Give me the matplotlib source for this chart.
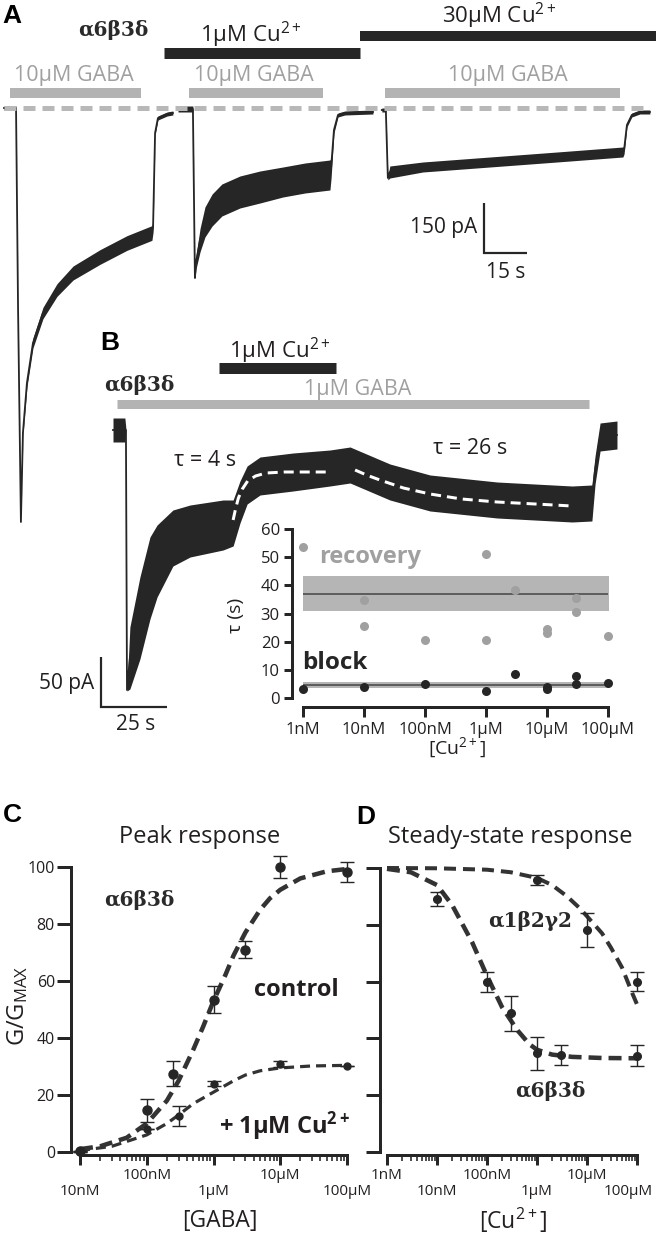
import numpy as np
import matplotlib
matplotlib.use("Agg")
import matplotlib.pyplot as plt
import matplotlib.transforms as mtransforms
from matplotlib.ticker import FixedLocator, FixedFormatter, LogLocator, NullFormatter, NullLocator

W, H = 656, 1235
plt.rcParams['font.family'] = ['Open Sans', 'DejaVu Sans']
plt.rcParams['mathtext.fontset'] = 'custom'
plt.rcParams['mathtext.rm'] = 'Open Sans'
plt.rcParams['mathtext.it'] = 'Open Sans:italic'
plt.rcParams['mathtext.bf'] = 'Open Sans:bold'
plt.rcParams['lines.scale_dashes'] = False

INK = '#262626'
TXT = '#231f20'
GRAY_BAR = '#b3b3b3'
GRAY_TXT = '#a0a0a0'
SERIF = ['DejaVu Serif']
HEAVY = ['Liberation Sans', 'DejaVu Sans']
PT = 72 / 100.0  # points per pixel

# ---------------- DATA ----------------
# Panel A: current traces (time s, current pA, noise half-width pA)
a_t1 = [0, 4.2, 4.9, 5.9, 6.6, 8.0, 10.1, 13.6, 18.5, 24.1, 33.5, 42.9, 51.6, 52.0, 52.7, 53.7, 56.9, 58.9]
a_i1 = [0, 0, -600, -1242, -975, -825, -705, -615, -546, -495, -447, -405, -375, -357, -75, -30, -18, -15]
a_w1 = [6, 6, 3, 3, 8, 12, 15, 17, 19, 21, 22, 22, 22, 16, 6, 6, 6, 6]

a_t2 = [60.7, 65.9, 66.6, 67.0, 68.4, 70.1, 72.6, 76.0, 82.3, 89.3, 97.3, 105.0, 113.7, 114.1, 115.1, 116.5, 118.9, 128.7]
a_i2 = [-3, -3, -510, -462, -396, -342, -306, -276, -252, -237, -222, -210, -201, -180, -66, -21, -15, -12]
a_w2 = [9, 9, 3, 20, 35, 45, 48, 48, 48, 48, 45, 45, 45, 30, 9, 6, 6, 6]

a_t3 = [131.8, 133.2, 133.9, 134.6, 146.1, 169.5, 192.9, 215.9, 216.3, 217.3, 219.0, 221.8, 225.3]
a_i3 = [-6, -6, -210, -192, -177, -162, -147, -132, -126, -51, -21, -12, -12]
a_w3 = [6, 6, 6, 18, 15, 15, 15, 15, 12, 6, 6, 6, 6]

a_gaba = [(2.1, 47.8), (64.5, 111.3), (132.9, 214.9)]
a_cu1 = (55.8, 124.2)
a_cu30 = (124.2, 227.4)

# Panel B: trace (time s, current pA, noise half-width pA)
b_t = [0, 4.5, 4.9, 5.3, 6.4, 10.2, 14.0, 16.7, 22.7, 29.2, 41.7, 45.5, 48.1, 50.8, 55.7, 68.2, 82.2, 89.8, 104.9, 120.1, 145.5, 173.9, 181.4, 182.6, 184.5, 190.9]
b_i = [0, 0, 0, -260, -228, -188, -148, -131, -108, -101, -95, -93, -72, -55, -46, -42, -38, -35, -52, -63, -70, -74, -73, -40, -7, -5]
b_w = [12, 12, 1, 1, 31, 41, 41, 36, 28, 26, 25, 23, 21, 19, 19, 19, 18, 18, 18, 18, 18, 18, 18, 14, 14, 14]
b_fit1_t = [45.5, 46.5, 47.5, 49.0, 51.0, 54.0, 58.0, 65.0, 81.0]
b_fit1_i = [-90, -78, -68, -59, -51, -46, -43, -42, -42]
b_fit2_t = [91.7, 96.0, 101.1, 110.0, 120.1, 132.0, 145.5, 160.0, 173.9]
b_fit2_i = [-40, -45, -50, -58, -64, -69, -72, -74, -76]
b_gaba = (1.5, 180.3)
b_cu = (40.2, 84.5)

# Inset: time constants vs [Cu2+]
conc_ticks = [1e-9, 1e-8, 1e-7, 1e-6, 1e-5, 1e-4]
conc_labels = ['1nM', '10nM', '100nM', '1μM', '10μM', '100μM']
rec_x = [1e-9, 1e-8, 1e-8, 1e-7, 1e-6, 1e-6, 3e-6, 1e-5, 1e-5, 3e-5, 3e-5, 1e-4]
rec_y = [53.5, 34.9, 25.7, 20.7, 51.2, 20.7, 38.2, 24.5, 23.1, 35.5, 30.5, 22.1]
blk_x = [1e-9, 1e-8, 1e-7, 1e-6, 3e-6, 1e-5, 1e-5, 3e-5, 3e-5, 1e-4]
blk_y = [3.2, 3.8, 5.1, 2.6, 8.6, 3.3, 3.9, 7.9, 5.0, 5.3]
rec_mean, rec_lo, rec_hi = 37.0, 31.0, 43.2
blk_mean, blk_lo, blk_hi = 4.5, 3.6, 5.6

# Panel C: GABA concentration-response
gaba_ticks = [1e-8, 1e-7, 1e-6, 1e-5, 1e-4]
gaba_labels = ['10nM', '100nM', '1μM', '10μM', '100μM']
c_ctrl_x = [1e-8, 1e-7, 2.5e-7, 1e-6, 3e-6, 1e-5, 1e-4]
c_ctrl_y = [0.5, 14.6, 27.5, 53.5, 71.0, 100.0, 98.2]
c_ctrl_e = [0, 4.0, 4.4, 4.7, 3.0, 3.8, 3.5]
c_cu_x = [1e-8, 1e-7, 3e-7, 1e-6, 1e-5, 1e-4]
c_cu_y = [0.0, 8.0, 12.5, 24.0, 30.8, 30.2]
c_cu_e = [0, 0, 3.5, 1.0, 1.0, 0]
c_ctrl_fit_x = [1e-8, 2e-8, 5e-8, 1e-7, 2e-7, 3e-7, 5e-7, 7e-7, 1e-6, 1.5e-6, 2e-6, 3e-6, 5e-6, 7e-6, 1e-5, 2e-5, 5e-5, 1e-4]
c_ctrl_fit_y = [1, 2, 5, 10, 18, 25, 36, 44, 53, 62, 69, 77, 85, 89, 92, 96, 98.5, 99.3]
c_cu_fit_x = [1e-8, 3e-8, 1e-7, 2e-7, 3e-7, 5e-7, 1e-6, 2e-6, 3e-6, 5e-6, 1e-5, 3e-5, 1e-4]
c_cu_fit_y = [0.5, 2, 6, 10, 13, 17, 21, 25, 27, 28.5, 29.5, 30.2, 30.4]

# Panel D: steady-state Cu2+ inhibition
d_a6_x = [1e-8, 1e-7, 3e-7, 1e-6, 3e-6, 1e-4]
d_a6_y = [89.0, 60.0, 48.8, 34.7, 34.1, 33.9]
d_a6_e = [2.4, 3.5, 6.2, 5.9, 3.5, 3.7]
d_a1_x = [1e-6, 1e-5, 1e-4]
d_a1_y = [95.9, 78.2, 60.0]
d_a1_e = [1.8, 5.9, 3.4]
d_a6_fit_x = [1e-9, 3e-9, 1e-8, 2e-8, 5e-8, 1e-7, 2e-7, 4e-7, 7e-7, 1e-6, 2e-6, 5e-6, 2e-5, 1e-4]
d_a6_fit_y = [99.7, 98.5, 94, 87, 74, 62, 51, 43, 38, 36, 34.3, 33.5, 33.1, 33]
d_a1_fit_x = [1e-9, 1e-8, 1e-7, 3e-7, 1e-6, 2e-6, 4e-6, 7e-6, 1e-5, 2e-5, 3e-5, 5e-5, 8e-5, 1e-4]
d_a1_fit_y = [100, 99.9, 99.4, 98.5, 96.5, 94, 90, 86, 83, 77, 72, 65, 56, 52]

# ---------------- FIGURE ----------------
fig = plt.figure(figsize=(W / 100, H / 100), dpi=100)


def ax_px(x0, y0, x1, y1):
    return fig.add_axes([x0 / W, 1 - y1 / H, (x1 - x0) / W, (y1 - y0) / H])


def ftext(x, y, s, **kw):
    kw.setdefault('ha', 'center')
    kw.setdefault('va', 'center')
    kw.setdefault('color', TXT)
    fig.text(x / W, 1 - y / H, s, **kw)


def greek(x, y, s):
    ftext(x, y, s, fontsize=14.5, family=SERIF, fontweight='bold', color='#2a2a2a')


def draw_trace(ax, t, i, w):
    t = np.asarray(t, float); i = np.asarray(i, float); w = np.asarray(w, float)
    ax.fill_between(t, i - w, i + w, color=INK, lw=0)
    ax.plot(t, i, color=INK, lw=1.3)


def hbar(ax, span, y, color, px):
    ax.plot(list(span), [y, y], color=color, lw=px * PT, solid_capstyle='butt')


# ---- Panel A ----
axA = ax_px(0, 0, W, 530)
axA.set_axis_off()
sA = 43 / 15.0
axA.set_xlim(-4 / sA, (W - 4) / sA)
axA.set_ylim((108 - 530) * 3, 108 * 3)
for t, i, w in [(a_t1, a_i1, a_w1), (a_t2, a_i2, a_w2), (a_t3, a_i3, a_w3)]:
    draw_trace(axA, t, i, w)
axA.plot([0, 224], [0, 0], color='#b8b8b8', lw=5 * PT, dashes=(12 * PT, 7 * PT), zorder=5)
for span in a_gaba:
    hbar(axA, span, 45, GRAY_BAR, 10)
hbar(axA, a_cu1, 163.5, INK, 11)
hbar(axA, a_cu30, 216, INK, 10)
axA.plot([167.4, 167.4, 182.4], [-285, -435, -435], color=INK, lw=2.2 * PT,
         solid_joinstyle='miter', solid_capstyle='butt')

ftext(12, 16, 'A', fontsize=19, fontweight='bold', family=HEAVY, color='black')
greek(113, 30, 'α6β3δ')
ftext(251, 35, '1μM Cu$^{2+}$', fontsize=16)
ftext(499, 16, '30μM Cu$^{2+}$', fontsize=16)
for xc in (74, 254, 508):
    ftext(xc, 76, '10μM GABA', fontsize=15.5, color=GRAY_TXT)
ftext(477, 228, '150 pA', ha='right', fontsize=15)
ftext(506, 273, '15 s', fontsize=15)

# ---- Panel B ----
axB = ax_px(60, 330, 640, 760)
axB.set_axis_off()
sB = 2.64
axB.set_xlim((60 - 113) / sB, (640 - 113) / sB)
axB.set_ylim(-330, 100)
draw_trace(axB, b_t, b_i, b_w)
for ft, fi in [(b_fit1_t, b_fit1_i), (b_fit2_t, b_fit2_i)]:
    axB.plot(ft, fi, color='white', lw=3 * PT, dashes=(10 * PT, 6 * PT), zorder=4)
hbar(axB, b_gaba, 26.5, GRAY_BAR, 9)
hbar(axB, b_cu, 62.5, INK, 11)
axB.plot([-4.5, -4.5, 20.5], [-227, -277, -277], color=INK, lw=2.2 * PT,
         solid_joinstyle='miter', solid_capstyle='butt')

ftext(110, 343, 'B', fontsize=19, fontweight='bold', family=HEAVY, color='black')
ftext(280, 351, '1μM Cu$^{2+}$', fontsize=16)
greek(139, 385, 'α6β3δ')
ftext(358, 390, '1μM GABA', fontsize=15.5, color=GRAY_TXT)
ftext(205, 460, 'τ = 4 s', fontsize=15.5)
ftext(470, 448, 'τ = 26 s', fontsize=15.5)
ftext(94, 683, '50 pA', ha='right', fontsize=15)
ftext(136, 725, '25 s', fontsize=15)

# ---- Inset ----
axI = ax_px(303, 529, 608, 698)
axI.patch.set_alpha(0)
axI.set_xscale('log')
axI.set_xlim(1e-9, 1e-4)
axI.set_ylim(0, 60)
for s in ('top', 'right'):
    axI.spines[s].set_visible(False)
axI.spines['left'].set_position(('outward', 11 * PT))
axI.spines['bottom'].set_position(('outward', 9 * PT))
for s in ('left', 'bottom'):
    axI.spines[s].set_linewidth(3 * PT)
    axI.spines[s].set_color(INK)
axI.fill_between([1e-9, 1.08e-4], rec_lo, rec_hi, color='#b5b5b5', lw=0)
axI.plot([1e-9, 1.08e-4], [rec_mean] * 2, color='#555555', lw=1.3)
axI.fill_between([1e-9, 1.08e-4], blk_lo, blk_hi, color='#b5b5b5', lw=0)
axI.plot([1e-9, 1.08e-4], [blk_mean] * 2, color='#555555', lw=1.3)
axI.plot(rec_x, rec_y, 'o', ms=6.5, color='#a0a0a0', mec='none', clip_on=False, zorder=3)
axI.plot(blk_x, blk_y, 'o', ms=6.5, color=INK, mec='none', clip_on=False, zorder=3)
axI.xaxis.set_major_locator(FixedLocator(conc_ticks))
axI.xaxis.set_major_formatter(FixedFormatter(conc_labels))
axI.xaxis.set_minor_locator(NullLocator())
axI.set_yticks([0, 10, 20, 30, 40, 50, 60])
axI.tick_params(axis='x', length=10 * PT, width=3 * PT, color=INK, labelsize=12, pad=3.5, labelcolor=TXT)
axI.tick_params(axis='y', length=8 * PT, width=3 * PT, color=INK, labelsize=12, pad=3, labelcolor=TXT)
ftext(370, 557, 'recovery', fontsize=17, fontweight='bold', color='#a0a0a0')
ftext(335, 663, 'block', fontsize=17.5, fontweight='bold', color=INK)
ftext(457, 748, '[Cu$^{2+}$]', fontsize=14)
ftext(236, 615, 'τ (s)', fontsize=14, rotation=90)


# ---- Panels C & D ----
def style_dr(ax, left_out):
    ax.set_xscale('log')
    ax.set_ylim(0, 100)
    ax.patch.set_alpha(0)
    for s in ('top', 'right'):
        ax.spines[s].set_visible(False)
    ax.spines['left'].set_position(('outward', left_out * PT))
    ax.spines['bottom'].set_position(('outward', 3 * PT))
    for s in ('left', 'bottom'):
        ax.spines[s].set_linewidth(3 * PT)
        ax.spines[s].set_color(INK)
    ax.set_yticks([0, 20, 40, 60, 80, 100])
    ax.xaxis.set_minor_locator(LogLocator(base=10, subs=np.arange(2, 10), numticks=20))
    ax.xaxis.set_minor_formatter(NullFormatter())
    ax.tick_params(axis='y', length=14 * PT, width=3 * PT, color=INK, labelsize=11.5, pad=1.5, labelcolor=TXT)
    ax.tick_params(axis='x', which='major', length=10 * PT, width=3 * PT, color=INK, labelsize=11, labelcolor=TXT)
    ax.tick_params(axis='x', which='minor', length=6 * PT, width=1.6 * PT, color=INK)


def stagger(ax, ticks, labels, first_low):
    ax.xaxis.set_major_locator(FixedLocator(ticks))
    ax.xaxis.set_major_formatter(FixedFormatter(labels))
    for k, tk in enumerate(ax.xaxis.get_major_ticks()):
        low = (k % 2 == 0) if first_low else (k % 2 == 1)
        tk.set_pad(14 if low else 2)


axC = ax_px(80, 867, 347, 1152)
style_dr(axC, 9)
axC.set_xlim(1e-8, 1e-4)
stagger(axC, gaba_ticks, gaba_labels, True)
axC.plot(c_ctrl_fit_x, c_ctrl_fit_y, color='#333333', lw=4.5 * PT, dashes=(13 * PT, 7 * PT), clip_on=False, zorder=4)
axC.plot(c_cu_fit_x, c_cu_fit_y, color='#333333', lw=3.2 * PT, dashes=(10 * PT, 6 * PT), clip_on=False, zorder=4)
axC.errorbar(c_ctrl_x, c_ctrl_y, yerr=c_ctrl_e, fmt='o', ms=6.5, color=INK, ecolor=INK,
             elinewidth=1, capsize=5, capthick=1, clip_on=False, zorder=5)
axC.errorbar(c_cu_x, c_cu_y, yerr=c_cu_e, fmt='o', ms=5, color=INK, ecolor=INK,
             elinewidth=1, capsize=5, capthick=1, clip_on=False, zorder=5)

ftext(12, 815, 'C', fontsize=19, fontweight='bold', family=HEAVY, color='black')
ftext(200, 837, 'Peak response', fontsize=17)
greek(139, 900, 'α6β3δ')
ftext(296, 990, 'control', fontsize=17, fontweight='bold')
ftext(284, 1126, '+ 1μM Cu$^{\\mathbf{2+}}$', fontsize=17, fontweight='bold')
ftext(220, 1221, '[GABA]', fontsize=16.5)
ftext(18, 1006, '$\\mathrm{G/G}_{\\mathrm{MAX}}$', fontsize=17, rotation=90)

axD = ax_px(387, 868, 637, 1152)
style_dr(axD, 7)
axD.set_xlim(1e-9, 1e-4)
axD.set_yticklabels([])
stagger(axD, conc_ticks, conc_labels, False)
last = axD.xaxis.get_major_ticks()[-1].label1
last.set_transform(last.get_transform() + mtransforms.ScaledTranslation(-9 / 100, 0, fig.dpi_scale_trans))
axD.plot(d_a6_fit_x, d_a6_fit_y, color='#333333', lw=4.5 * PT, dashes=(13 * PT, 7 * PT), clip_on=False, zorder=4)
axD.plot(d_a1_fit_x, d_a1_fit_y, color='#333333', lw=4 * PT, dashes=(12 * PT, 7 * PT), clip_on=False, zorder=4)
axD.errorbar(d_a6_x, d_a6_y, yerr=d_a6_e, fmt='o', ms=5.5, color=INK, ecolor=INK,
             elinewidth=1, capsize=5, capthick=1, clip_on=False, zorder=5)
axD.errorbar(d_a1_x, d_a1_y, yerr=d_a1_e, fmt='o', ms=5.5, color=INK, ecolor=INK,
             elinewidth=1, capsize=5, capthick=1, clip_on=False, zorder=5)

ftext(366, 817, 'D', fontsize=19, fontweight='bold', family=HEAVY, color='black')
ftext(510, 837, 'Steady-state response', fontsize=17)
greek(530, 921, 'α1β2γ2')
greek(550, 1091, 'α6β3δ')
ftext(513, 1220, '[Cu$^{2+}$]', fontsize=16.5)

fig.savefig('out.png', dpi=100)
